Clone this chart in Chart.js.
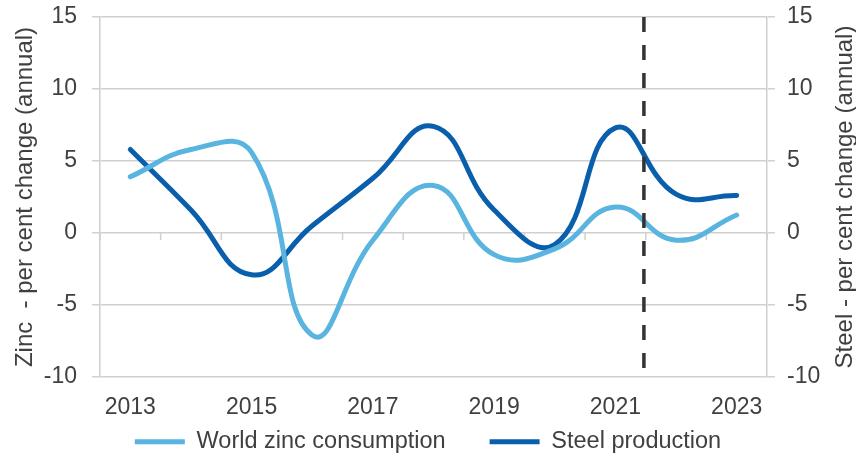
<!DOCTYPE html>
<html>
<head>
<meta charset="utf-8">
<script src="https://cdn.jsdelivr.net/npm/chart.js@4.4.0/dist/chart.umd.min.js"></script>
<style>
  html, body { margin: 0; padding: 0; background: #fff; }
  #wrap { width: 856px; height: 454px; }
</style>
</head>
<body>
<div id="wrap"><canvas id="chart" width="856" height="454"></canvas></div>
<script>
const years = ['2013', '2014', '2015', '2016', '2017', '2018', '2019', '2020', '2021', '2022', '2023'];
const zincConsumption = [3.9, 5.8, 5.6, -7.1, -0.5, 3.3, -1.5, -1.1, 1.8, -0.5, 1.25];
const steelProduction = [5.8, 1.6, -2.9, 0.5, 3.8, 7.4, 1.6, -0.8, 7.3, 2.7, 2.6];
const yMin = -10;
const yMax = 15;
const yStep = 5;
const forecastStart = 2021.47;   // dashed divider between actuals and forecasts

const gridGrey = '#d0d0d0';
const textGrey = '#404040';
const fontFamily = '"Liberation Sans", Arial, sans-serif';

// tick marks on the zero line + dashed forecast divider + right axis title
const extras = {
    id: 'extras',
    beforeDatasetsDraw(chart) {
        const { ctx, scales: { x, y } } = chart;
        const y0 = y.getPixelForValue(0);
        const half = (x.getPixelForValue(1) - x.getPixelForValue(0)) / 2;
        ctx.save();
        ctx.strokeStyle = gridGrey;
        ctx.lineWidth = 1.5;
        ctx.beginPath();
        for (let i = 0; i <= years.length; i++) {
            const px = x.getPixelForValue(0) - half + i * half * 2;
            ctx.moveTo(px, y0);
            ctx.lineTo(px, y0 + 7);
        }
        ctx.stroke();
        ctx.restore();
    },
    afterDatasetsDraw(chart) {
        const { ctx, chartArea, scales: { x } } = chart;
        const idx = forecastStart - Number(years[0]);
        const i0 = Math.floor(idx);
        const p0 = x.getPixelForValue(i0);
        const px = p0 + (idx - i0) * (x.getPixelForValue(i0 + 1) - p0);
        ctx.save();
        ctx.strokeStyle = '#333333';
        ctx.lineWidth = 3.5;
        ctx.setLineDash([15, 13]);
        ctx.beginPath();
        ctx.moveTo(px, chartArea.top);
        ctx.lineTo(px, chartArea.bottom);
        ctx.stroke();
        ctx.restore();
    },
    afterDraw(chart) {
        const { ctx, chartArea } = chart;
        ctx.save();
        ctx.translate(845, (chartArea.top + chartArea.bottom) / 2);
        ctx.rotate(-Math.PI / 2);
        ctx.fillStyle = textGrey;
        ctx.font = '24px ' + fontFamily;
        ctx.textAlign = 'center';
        ctx.textBaseline = 'middle';
        ctx.fillText('Steel - per cent change (annual)', 0, 0);
        ctx.restore();
    }
};

const yTickOpts = {
    stepSize: yStep,
    color: textGrey,
    font: { size: 23, family: fontFamily, lineHeight: 1 }
};

// keep the plot area top fixed instead of label-driven padding
function fixYPadding(scale) {
    scale.paddingTop = 17;
    scale.paddingBottom = 0;
}

new Chart(document.getElementById('chart'), {
    type: 'line',
    data: {
        labels: years,
        datasets: [
            {
                label: 'World zinc consumption',
                data: zincConsumption,
                borderColor: '#5ab4e0',
                backgroundColor: '#5ab4e0',
                borderWidth: 5,
                borderCapStyle: 'round',
                tension: 0.45,
                pointRadius: 0,
                yAxisID: 'y'
            },
            {
                label: 'Steel production',
                data: steelProduction,
                borderColor: '#0a5fad',
                backgroundColor: '#0a5fad',
                borderWidth: 5,
                borderCapStyle: 'round',
                tension: 0.45,
                pointRadius: 0,
                yAxisID: 'y1'
            }
        ]
    },
    options: {
        responsive: false,
        animation: false,
        layout: { padding: { top: 0, right: 0, bottom: -9.5, left: 0 } },
        scales: {
            x: {
                offset: true,
                grid: { display: false },
                border: { display: false },
                ticks: {
                    autoSkip: false,
                    maxRotation: 0,
                    padding: 8.5,
                    color: textGrey,
                    font: { size: 23, family: fontFamily },
                    callback(val, i) { return i % 2 === 0 ? this.getLabelForValue(val) : ''; }
                },
                afterFit(scale) { scale.height = 46; }
            },
            y: {
                position: 'left',
                min: yMin,
                max: yMax,
                grid: { color: gridGrey, lineWidth: 1.5, tickLength: 8 },
                border: { color: gridGrey, width: 1.5 },
                ticks: { ...yTickOpts, padding: 15 },
                title: {
                    display: true,
                    text: 'Zinc  - per cent change (annual)',
                    color: textGrey,
                    font: { size: 24, family: fontFamily, lineHeight: 1 },
                    padding: { top: 13, bottom: 0 }
                },
                afterFit(scale) {
                    scale.width = 100;
                    fixYPadding(scale);
                }
            },
            y1: {
                position: 'right',
                min: yMin,
                max: yMax,
                grid: { drawOnChartArea: false, color: gridGrey, lineWidth: 1.5, tickLength: 8 },
                border: { color: gridGrey, width: 1.5 },
                ticks: { ...yTickOpts, padding: 12 },
                afterFit(scale) {
                    scale.width = 89;
                    fixYPadding(scale);
                }
            }
        },
        plugins: {
            legend: {
                position: 'bottom',
                // empty title with negative padding pulls the items up,
                // so the wide item spacing does not push them down
                title: { display: true, text: '', font: { size: 0 }, padding: { top: -37, bottom: 0 } },
                labels: {
                    usePointStyle: true,
                    pointStyle: 'line',
                    pointStyleWidth: 50,
                    padding: 44,
                    color: textGrey,
                    font: { size: 23.5, family: fontFamily }
                }
            },
            tooltip: { enabled: false }
        }
    },
    plugins: [extras]
});
</script>
</body>
</html>
